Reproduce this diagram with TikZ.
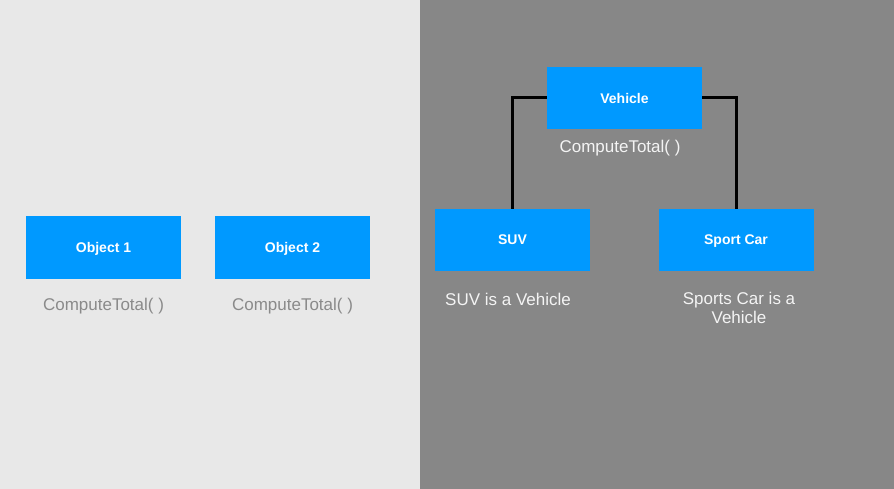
\documentclass[tikz,border=0pt]{standalone}
\usepackage{fontspec}
\setmainfont{Liberation Sans}
\usetikzlibrary{positioning}
\definecolor{boxblue}{RGB}{0,153,255}
\definecolor{leftbg}{RGB}{232,232,232}
\definecolor{rightbg}{RGB}{135,135,135}
\definecolor{lefttext}{RGB}{138,138,138}
\definecolor{righttext}{RGB}{244,244,244}

\begin{document}
\begin{tikzpicture}[x=1pt, y=-1pt,
class/.style={fill=boxblue, minimum width=155pt, minimum height=62pt, inner sep=0, text=white, font=\fontsize{14}{16}\selectfont\bfseries, text depth=-1.5pt},
method/.style={inner sep=0, font=\fontsize{17}{19}\selectfont},
link/.style={line width=3pt},
]

%%%%%%%%%%%%%%%%%%%%%%%% HATTER %%%%%%%%%%%%%%%%%%%%%%%%%%%
\useasboundingbox (0,0) rectangle (894,489);
\fill[leftbg] (0,0) rectangle (420,489);
\fill[rightbg] (420,0) rectangle (894,489);

%%%%%%%%%%%%%%%%%%%%%%%% OBJEKTUMOK %%%%%%%%%%%%%%%%%%%%%%%%%%%
\node[class] (obj1) at (103.5,247.5) {Object 1};
\node[class] (obj2) at (292.5,247.5) {Object 2};
\node[method, text=lefttext] (obj1m) at (103.5,306) {ComputeTotal( )};
\node[method, text=lefttext] (obj2m) at (292.5,306) {ComputeTotal( )};

%%%%%%%%%%%%%%%%%%%%%%%% OSZTALYOK %%%%%%%%%%%%%%%%%%%%%%%%%%%
\node[class] (vehicle) at (624.5,98) {Vehicle};
\node[method, text=righttext] (vehiclem) at (620,148) {ComputeTotal( )};

\node[class] (suv) at (512.5,240) {SUV};
\node[class] (sport) at (736,240) {Sport Car};

\draw[link] (vehicle.west) -| (suv.north);
\draw[link] (vehicle.east) -| (sport.north);

\node[method, text=righttext] (suvt) at (508,299) {SUV is a Vehicle};
\node[method, text=righttext, align=center] (sportt) at (739,308) {Sports Car is a\\Vehicle};

\end{tikzpicture}
\end{document}
